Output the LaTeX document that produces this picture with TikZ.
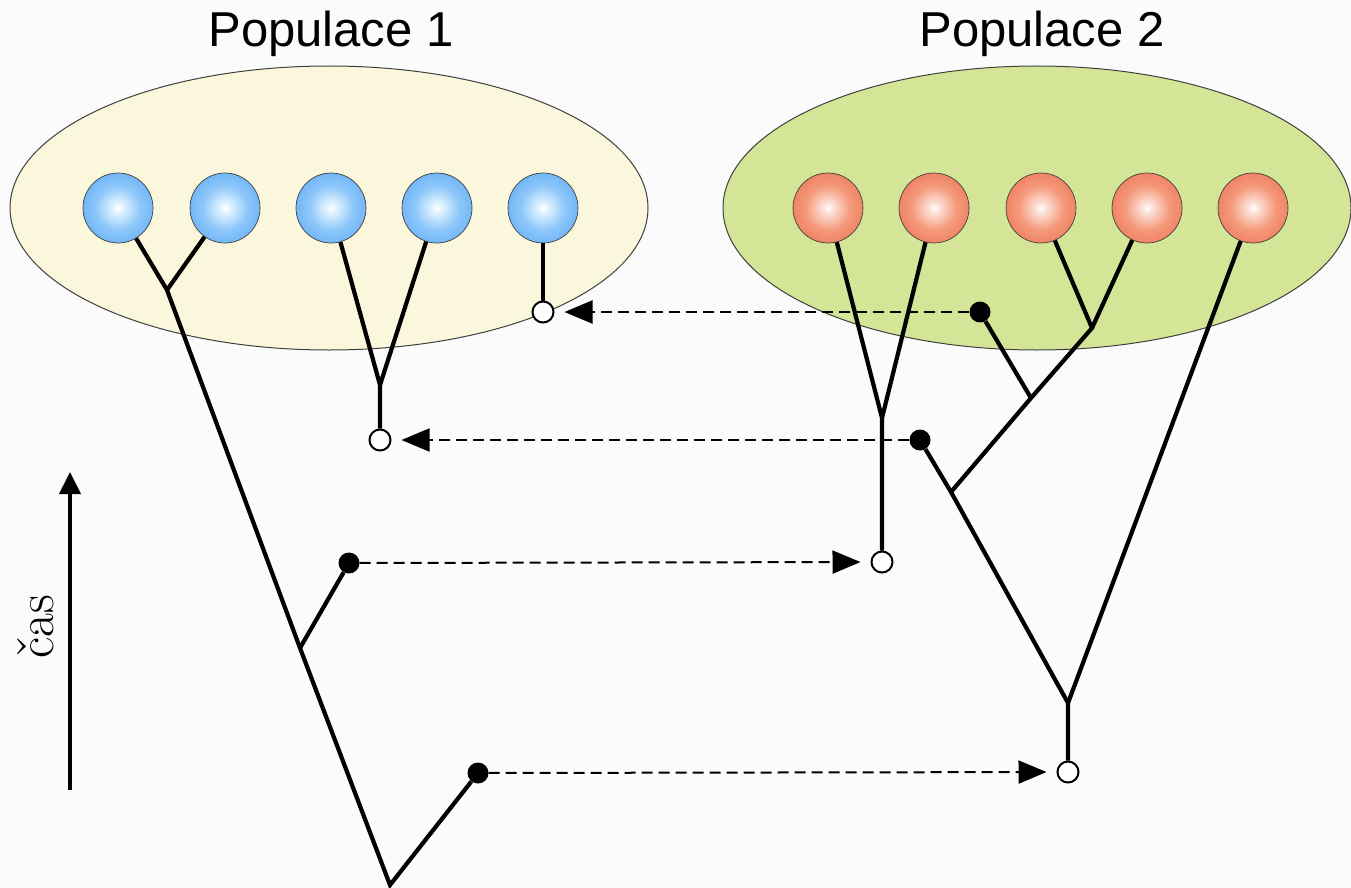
\documentclass[tikz,border=0pt]{standalone}
\usepackage{fontspec}
\newfontfamily\titlefont{Liberation Sans}
\usetikzlibrary{arrows.meta}
\definecolor{bgc}{RGB}{251,251,251}
\definecolor{popA}{RGB}{250,247,220}
\definecolor{popB}{RGB}{212,229,152}
\pgfdeclareradialshading{blueball}{\pgfpoint{0bp}{0bp}}{rgb(0bp)=(1,1,1); rgb(3bp)=(0.9,0.96,1); rgb(16bp)=(0.55,0.78,0.98); rgb(32bp)=(0.38,0.67,0.96); rgb(50bp)=(0.27,0.57,0.93)}
\pgfdeclareradialshading{redball}{\pgfpoint{0bp}{0bp}}{rgb(0bp)=(1,1,1); rgb(3bp)=(0.99,0.9,0.87); rgb(16bp)=(0.96,0.6,0.48); rgb(32bp)=(0.92,0.46,0.33); rgb(50bp)=(0.88,0.37,0.24)}
\tikzset{
  ball/.style={circle, minimum size=70pt, inner sep=0pt, draw=black!75, line width=0.7pt},
  bball/.style={ball, shading=blueball},
  rball/.style={ball, shading=redball},
  popell/.style={draw=black!75, line width=1pt},
  branch/.style={line width=4.2pt},
  opendot/.style={circle, minimum size=21pt, inner sep=0pt, draw=black, line width=2pt, fill=white},
  fulldot/.style={circle, minimum size=21pt, inner sep=0pt, fill=black},
  migr/.style={line width=2pt, dash pattern=on 11pt off 6pt, -{Triangle[length=28pt,width=23pt]}, shorten >=10pt},
  junc/.style={coordinate}
}
\begin{document}
\begin{tikzpicture}[x=1pt,y=-1pt]
\fill[bgc] (0,0) rectangle (1351,888);
\useasboundingbox (0,0) rectangle (1351,888);

% populations
\draw[popell, fill=popA] (329,208) ellipse [x radius=319, y radius=142];
\draw[popell, fill=popB] (1037,208) ellipse [x radius=314, y radius=142];

\node[font=\titlefont\fontsize{49}{55}\selectfont, anchor=base] (t1) at (331,47) {Populace 1};
\node[font=\titlefont\fontsize{49}{55}\selectfont, anchor=base] (t2) at (1042,47) {Populace 2};

% balls population 1
\node[bball] (a1) at (118,208) {};
\node[bball] (a2) at (225,208) {};
\node[bball] (a3) at (331,208) {};
\node[bball] (a4) at (437,208) {};
\node[bball] (a5) at (543,208) {};
% balls population 2
\node[rball] (b1) at (828,208) {};
\node[rball] (b2) at (934,208) {};
\node[rball] (b3) at (1041,208) {};
\node[rball] (b4) at (1147,208) {};
\node[rball] (b5) at (1253,208) {};

% junctions
\node[junc] (A) at (167,290) {};
\node[junc] (B) at (300,648) {};
\node[junc] (R) at (390,885) {};
\node[junc] (C) at (380,385) {};
\node[junc] (D) at (882,418) {};
\node[junc] (E) at (1092,328) {};
\node[junc] (F) at (1031,398) {};
\node[junc] (G) at (951,492) {};
\node[junc] (H) at (1068,703) {};

% migration dots
\node[opendot] (o1) at (543,312) {};
\node[opendot] (o2) at (380,440) {};
\node[opendot] (o3) at (882,562) {};
\node[opendot] (o4) at (1068,772) {};
\node[fulldot] (d1) at (980,312) {};
\node[fulldot] (d2) at (920,440) {};
\node[fulldot] (d3) at (349,563) {};
\node[fulldot] (d4) at (478,773) {};

% tree of population 1
\draw[branch] (a1) -- (A.center) -- (B.center) -- (R.center) -- (d4);
\draw[branch] (a2) -- (A.center);
\draw[branch] (B.center) -- (d3);
\draw[branch] (a3) -- (C.center) -- (o2);
\draw[branch] (a4) -- (C.center);
\draw[branch] (a5) -- (o1);

% tree of population 2
\draw[branch] (b1) -- (D.center) -- (o3);
\draw[branch] (b2) -- (D.center);
\draw[branch] (b3) -- (E.center) -- (F.center) -- (G.center);
\draw[branch] (b4) -- (E.center);
\draw[branch] (d1) -- (F.center);
\draw[branch] (d2) -- (G.center) -- (H.center) -- (o4);
\draw[branch] (b5) -- (H.center);

% migrations
\draw[migr] (d1) -- (o1);
\draw[migr] (d2) -- (o2);
\draw[migr] (d3) -- (o3);
\draw[migr] (d4) -- (o4);

% time axis
\coordinate (tb) at (70,790);
\coordinate (tt) at (70,472);
\draw[line width=4pt, -{Triangle[length=22pt,width=21pt]}] (tb) -- (tt);
\node[rotate=90, anchor=base, font=\rmfamily\fontsize{52}{58}\selectfont] (cas) at (53,627) {čas};
\end{tikzpicture}
\end{document}
